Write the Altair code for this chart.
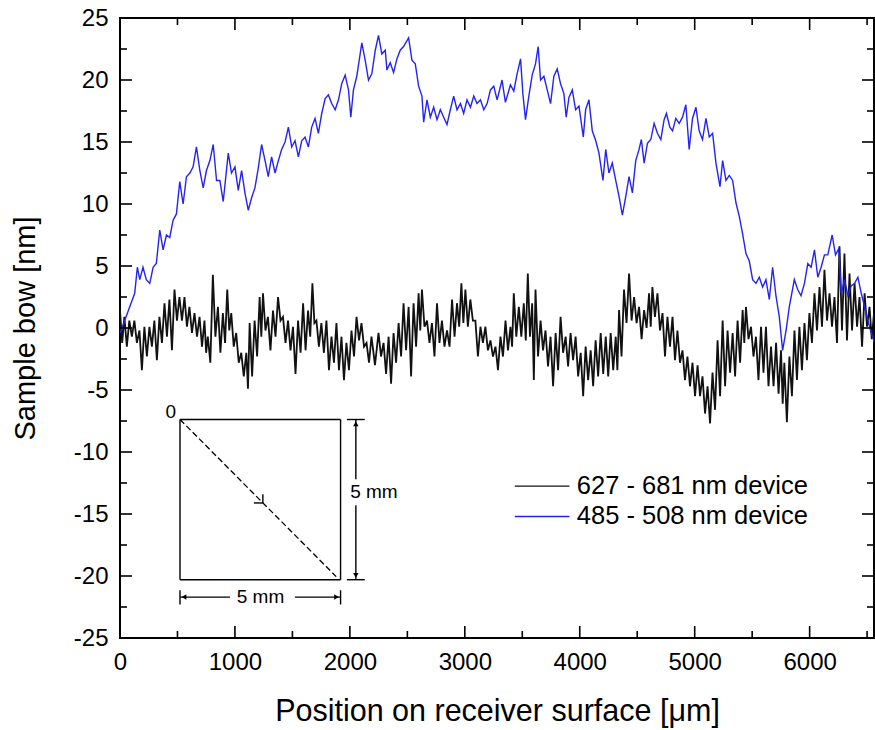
import altair as alt
import pandas as pd

# ---------------- data ----------------
x_major = [0, 1000, 2000, 3000, 4000, 5000, 6000]
x_minor = [500, 1500, 2500, 3500, 4500, 5500, 6500]
y_major = [-25, -20, -15, -10, -5, 0, 5, 10, 15, 20, 25]
y_minor = [-22.5, -17.5, -12.5, -7.5, -2.5, 2.5, 7.5, 12.5, 17.5, 22.5]

blue_x = [0, 41, 96, 128, 151, 172, 200, 229, 259, 288,
          316, 346, 375, 404, 433, 462, 491, 520, 549, 578,
          608, 636, 665, 695, 724, 752, 782, 811, 840, 869,
          898, 942, 970, 1000, 1029, 1058, 1087, 1116, 1145, 1174,
          1203, 1232, 1262, 1290, 1319, 1349, 1378, 1406, 1436, 1465,
          1494, 1523, 1552, 1581, 1610, 1639, 1668, 1697, 1726, 1755,
          1785, 1813, 1842, 1872, 1901, 1929, 1959, 1988, 2008, 2031,
          2060, 2104, 2133, 2162, 2191, 2221, 2249, 2278, 2308, 2322,
          2351, 2380, 2409, 2438, 2467, 2511, 2540, 2569, 2598, 2627,
          2642, 2671, 2700, 2729, 2758, 2787, 2816, 2845, 2874, 2903,
          2932, 2962, 2990, 3019, 3049, 3078, 3106, 3136, 3165, 3194,
          3223, 3252, 3281, 3324, 3353, 3397, 3426, 3455, 3485, 3505,
          3528, 3557, 3586, 3615, 3638, 3659, 3688, 3717, 3746, 3775,
          3804, 3833, 3862, 3882, 3906, 3935, 3964, 3993, 4031, 4051,
          4080, 4109, 4139, 4167, 4202, 4226, 4254, 4283, 4313, 4342,
          4371, 4400, 4429, 4458, 4487, 4516, 4536, 4560, 4589, 4618,
          4647, 4676, 4705, 4734, 4754, 4784, 4807, 4836, 4865, 4894,
          4923, 4952, 4981, 5011, 5039, 5068, 5098, 5127, 5156, 5185,
          5220, 5243, 5272, 5301, 5330, 5359, 5388, 5417, 5446, 5475,
          5504, 5533, 5562, 5591, 5620, 5649, 5678, 5707, 5736, 5765,
          5795, 5823, 5867, 5896, 5925, 5955, 5984, 6013, 6042, 6071,
          6100, 6129, 6158, 6196, 6225, 6254, 6275, 6304, 6333, 6362,
          6391, 6420, 6449, 6478, 6507, 6536, 6565]
blue_y = [-0.4, 0.6, 2.0, 2.8, 4.9, 3.9, 4.9, 3.9, 3.6, 4.9,
          5.2, 7.9, 6.3, 7.5, 7.3, 8.7, 9.2, 11.8, 10.0, 12.2,
          12.5, 13.0, 14.6, 12.7, 11.3, 12.7, 13.5, 14.8, 11.9, 11.9,
          10.2, 14.1, 12.5, 13.0, 11.1, 12.7, 10.9, 9.5, 10.5, 11.3,
          12.9, 14.8, 13.5, 12.2, 13.8, 12.5, 13.5, 14.4, 15.0, 16.2,
          14.6, 15.1, 13.8, 15.1, 15.4, 14.6, 16.2, 16.9, 15.7, 17.3,
          18.5, 18.8, 18.1, 17.6, 18.4, 19.7, 20.4, 19.2, 17.0, 19.2,
          20.3, 23.0, 21.6, 20.0, 20.5, 22.4, 23.6, 22.1, 22.4, 20.8,
          21.4, 20.6, 21.7, 22.4, 22.7, 23.4, 21.6, 21.3, 19.5, 18.7,
          16.6, 18.4, 17.0, 17.8, 16.8, 17.6, 17.0, 16.4, 17.6, 18.7,
          17.6, 18.1, 17.3, 18.4, 17.8, 18.7, 18.1, 18.4, 17.6, 18.1,
          19.2, 19.5, 18.4, 20.0, 18.2, 19.6, 19.1, 20.5, 21.7, 18.9,
          16.8, 18.7, 20.4, 21.3, 22.7, 20.0, 20.3, 19.2, 18.1, 20.3,
          20.9, 19.7, 18.9, 17.0, 18.6, 19.2, 17.6, 17.9, 15.4, 17.6,
          18.4, 15.9, 15.1, 14.1, 11.9, 14.4, 12.5, 13.3, 11.9, 10.6,
          9.1, 10.6, 12.2, 10.9, 13.5, 14.4, 15.2, 13.3, 14.9, 15.2,
          16.5, 15.7, 15.2, 16.8, 17.3, 16.2, 15.9, 16.9, 16.5, 17.0,
          18.0, 14.4, 16.9, 17.8, 15.9, 15.2, 16.9, 15.4, 15.7, 13.3,
          11.4, 13.5, 11.9, 12.3, 11.9, 10.1, 9.0, 7.6, 6.0, 5.4,
          3.9, 3.6, 4.1, 3.3, 3.9, 2.3, 4.9, 2.6, 0.9, -1.8,
          -0.2, 1.7, 3.9, 3.1, 2.6, 3.6, 5.2, 4.9, 6.3, 4.1,
          4.9, 5.9, 5.9, 7.5, 5.9, 6.4, 2.8, 3.9, 2.6, 3.4,
          3.6, 4.1, 2.8, 1.7, 0.6, -0.4, -1.2]

# black trace: sampled positions with the upper and lower excursion of the noisy band
black_x = [0, 38, 81, 125, 169, 212, 256, 299, 343, 387,
           430, 474, 517, 561, 604, 648, 692, 735, 764, 808,
           852, 895, 933, 968, 1011, 1055, 1099, 1128, 1171, 1215,
           1244, 1287, 1331, 1375, 1418, 1462, 1505, 1549, 1593, 1636,
           1674, 1709, 1752, 1796, 1840, 1883, 1927, 1970, 2014, 2058,
           2101, 2145, 2188, 2249, 2293, 2337, 2380, 2424, 2467, 2511,
           2554, 2598, 2627, 2671, 2714, 2758, 2801, 2845, 2889, 2932,
           2970, 3005, 3048, 3092, 3136, 3179, 3223, 3267, 3310, 3354,
           3397, 3426, 3470, 3513, 3548, 3586, 3615, 3659, 3702, 3746,
           3790, 3833, 3877, 3920, 3964, 4008, 4051, 4095, 4138, 4182,
           4226, 4269, 4313, 4342, 4385, 4429, 4473, 4516, 4560, 4603,
           4632, 4676, 4720, 4763, 4807, 4850, 4894, 4937, 4981, 5025,
           5068, 5112, 5155, 5199, 5243, 5286, 5330, 5373, 5417, 5446,
           5490, 5533, 5577, 5620, 5664, 5708, 5751, 5780, 5824, 5868,
           5911, 5955, 5998, 6042, 6086, 6129, 6173, 6216, 6260, 6303,
           6347, 6391, 6434, 6478, 6521, 6560]
black_hi = [1.4, 0.9, 0.6, 0.6, -0.2, 0.1, 0.1, 0.6, 0.9, 2.0,
            2.3, 3.1, 2.5, 2.5, 1.7, 1.2, 0.9, 0.6, -0.7, 4.3,
            1.7, 1.2, 3.1, 1.2, -0.4, -2.0, -2.0, 0.4, 0.6, 2.5,
            2.8, 0.9, 1.4, 2.5, 0.9, 0.6, 0.1, 0.6, 2.0, 1.4,
            3.6, 0.6, 0.4, 0.6, -0.7, 0.4, -0.7, -1.2, -0.2, 0.9,
            0.4, -1.2, -0.7, -0.4, -1.2, -0.7, -0.4, 0.4, 2.0, 1.7,
            2.0, 2.8, 3.1, 0.6, 0.4, 2.0, 0.6, -0.2, 2.3, 2.0,
            3.6, 3.1, 2.3, 0.6, 0.1, 0.1, -1.0, -1.5, -0.7, 0.6,
            0.1, 2.8, 1.7, 2.0, 4.4, 2.0, 3.1, 0.6, -0.2, -0.7,
            -0.4, 0.9, -0.7, -0.4, -0.7, -2.0, -1.5, -1.8, -1.0, -0.4,
            -0.7, -0.4, -0.7, 1.45, 3.1, 4.4, 2.5, 1.7, 1.45, 2.8,
            3.3, 2.8, 1.2, 0.9, 0.9, -0.2, -1.8, -2.3, -2.8, -3.0,
            -3.9, -4.7, -3.6, -1.0, 0.6, -0.2, -0.4, 0.6, 1.45, 1.7,
            0.1, -0.7, 0.1, 0.1, -1.5, -1.2, -1.8, -2.8, -2.3, -0.2,
            0.1, 0.4, 1.2, 2.8, 3.3, 4.7, 2.8, 2.5, 6.6, 6.0,
            4.4, 3.6, 2.5, 2.8, 1.7, 1.2]
black_lo = [-1.2, -1.5, -0.7, -1.2, -3.4, -2.3, -1.5, -2.6, -1.2, -0.7,
            -1.8, 0.6, 0.6, 0.1, -0.4, -0.7, -1.5, -2.0, -2.8, -0.7,
            -2.0, -1.2, -0.2, -1.5, -2.8, -3.9, -4.9, -3.9, -2.3, -0.7,
            -0.2, -1.8, -0.7, 0.6, -1.2, -1.8, -3.7, -2.0, -1.8, -0.7,
            0.4, -1.5, -2.0, -3.4, -2.8, -3.4, -4.2, -3.4, -2.3, -1.0,
            -1.5, -2.8, -3.0, -2.3, -3.7, -4.5, -2.8, -2.3, -1.8, -3.9,
            -1.5, -0.2, 0.1, -1.2, -2.3, -1.2, -1.5, -1.5, -0.7, 0.1,
            0.4, 0.1, 0.6, -2.3, -1.2, -1.8, -2.3, -3.4, -2.3, -1.8,
            -1.5, -0.7, -0.7, -1.0, -0.7, -4.2, -2.3, -1.8, -3.1, -4.7,
            -3.4, -2.0, -3.1, -2.6, -3.9, -5.5, -4.2, -4.7, -3.9, -3.7,
            -3.9, -3.4, -3.4, -2.3, 0.4, 0.6, 0.4, -0.9, 0.0, 0.1,
            0.9, -0.2, -2.3, -1.5, -2.6, -2.8, -4.2, -4.7, -5.5, -5.5,
            -6.9, -7.7, -6.6, -5.5, -4.7, -3.6, -3.9, -2.8, -1.2, -0.9,
            -2.3, -4.2, -3.6, -4.7, -4.7, -5.3, -6.1, -7.6, -5.5, -4.2,
            -3.4, -2.6, -1.2, -0.2, 0.1, 0.6, 0.1, -1.2, -0.2, -1.0,
            -0.2, 0.1, -1.5, 0.1, -0.9, -1.2]

series_names = ["627 - 681 nm device", "485 - 508 nm device"]
series_colors = ["#111111", "#2323f5"]

# inset sketch (data units: µm, nm)
box_x = [522, 1919]
box_y = [-7.38, -20.3]
diag_end = [1881, -20.05]
chevron_tip = [1243, -14.11]
chevron_left = [1165, -14.11]
chevron_up = [1243, -13.40]
vdim_x = 2052
vdim_gap = [-12.2, -14.3]
vdim_bar = [1974, 2130]
hdim_y = -21.7
hdim_gap = [957, 1522]
hdim_bar = [-21.15, -22.3]
dim_label = "5 mm"
vdim_label_pos = [2209, -13.2]
hdim_label_pos = [1222, -21.7]
origin_label_pos = [441, -6.8]

legend_line_x = [3435, 3910]
legend_y = [-12.75, -15.2]
legend_text_x = 3974

# ---------------- build tables ----------------
rows = []
n = len(black_x)
k = 0
for i in range(n):
    rows.append({"x": black_x[i], "y": black_hi[i], "i": k}); k += 1
    xm = (black_x[i] + black_x[i + 1]) / 2 if i < n - 1 else black_x[i]
    rows.append({"x": xm, "y": black_lo[i], "i": k}); k += 1
black_df = pd.DataFrame(rows)
blue_df = pd.DataFrame({"x": blue_x, "y": blue_y, "i": list(range(len(blue_x)))})

FONT = "Liberation Sans"
W, H = 754, 620
xs = alt.Scale(domain=[0, 6560], nice=False, zero=False)
ys = alt.Scale(domain=[-25, 25], nice=False, zero=False)

x_axis = alt.Axis(values=x_major, labelExpr="'' + datum.value", ticks=False, domain=False,
                  grid=False, labelFlush=False, labelFont=FONT, labelFontSize=24,
                  labelColor="black", labelPadding=12,
                  title="Position on receiver surface [\u03bcm]", titleFont=FONT,
                  titleFontSize=30.5, titleFontWeight="normal", titleColor="black",
                  titlePadding=22)
y_axis = alt.Axis(values=y_major, labelExpr="'' + datum.value", ticks=False, domain=False,
                  grid=False, labelFlush=False, labelFont=FONT, labelFontSize=24,
                  labelColor="black", labelPadding=12,
                  title="Sample bow [nm]", titleFont=FONT, titleFontSize=29,
                  titleFontWeight="normal", titleColor="black", titlePadding=33)


def X(f):
    return alt.X(f, scale=xs, axis=x_axis)


def Y(f):
    return alt.Y(f, scale=ys, axis=y_axis)


black_line = alt.Chart(black_df).mark_line(color=series_colors[0], strokeWidth=1.8, clip=True).encode(
    x=X("x:Q"), y=Y("y:Q"), order="i:Q")
blue_line = alt.Chart(blue_df).mark_line(color=series_colors[1], strokeWidth=1.4, clip=True).encode(
    x=X("x:Q"), y=Y("y:Q"), order="i:Q")

# inward ticks (drawn as rules; positions through the scales, lengths in pixels)
tick_style = dict(color="black", strokeWidth=1.6)


def xticks(vals, y0, y1):
    return alt.Chart(pd.DataFrame({"v": vals})).mark_rule(**tick_style).encode(
        x=X("v:Q"), y=alt.value(y0), y2=alt.value(y1))


def yticks(vals, x0, x1):
    return alt.Chart(pd.DataFrame({"v": vals})).mark_rule(**tick_style).encode(
        y=Y("v:Q"), x=alt.value(x0), x2=alt.value(x1))


tick_layers = [
    xticks(x_major, H, H - 12), xticks(x_minor, H, H - 7),
    xticks(x_major, 0, 12), xticks(x_minor, 0, 7),
    yticks(y_major, 0, 12), yticks(y_minor, 0, 7),
    yticks(y_major, W, W - 12), yticks(y_minor, W, W - 7),
]

# inset: box and dimension lines (solid segments)
seg = pd.DataFrame([
    {"x": box_x[0], "y": box_y[0], "x2": box_x[1], "y2": box_y[0]},
    {"x": box_x[0], "y": box_y[1], "x2": box_x[1], "y2": box_y[1]},
    {"x": box_x[0], "y": box_y[0], "x2": box_x[0], "y2": box_y[1]},
    {"x": box_x[1], "y": box_y[0], "x2": box_x[1], "y2": box_y[1]},
    {"x": vdim_x, "y": box_y[0], "x2": vdim_x, "y2": vdim_gap[0]},
    {"x": vdim_x, "y": vdim_gap[1], "x2": vdim_x, "y2": box_y[1]},
    {"x": vdim_bar[0], "y": box_y[0], "x2": vdim_bar[1], "y2": box_y[0]},
    {"x": vdim_bar[0], "y": box_y[1], "x2": vdim_bar[1], "y2": box_y[1]},
    {"x": box_x[0], "y": hdim_y, "x2": hdim_gap[0], "y2": hdim_y},
    {"x": hdim_gap[1], "y": hdim_y, "x2": box_x[1], "y2": hdim_y},
    {"x": box_x[0], "y": hdim_bar[0], "x2": box_x[0], "y2": hdim_bar[1]},
    {"x": box_x[1], "y": hdim_bar[0], "x2": box_x[1], "y2": hdim_bar[1]},
    {"x": chevron_tip[0], "y": chevron_tip[1], "x2": chevron_left[0], "y2": chevron_left[1]},
    {"x": chevron_tip[0], "y": chevron_tip[1], "x2": chevron_up[0], "y2": chevron_up[1]},
])
inset_lines = alt.Chart(seg).mark_rule(color="black", strokeWidth=1.4).encode(
    x=X("x:Q"), y=Y("y:Q"), x2="x2:Q", y2="y2:Q")

diag = pd.DataFrame([{"x": box_x[0], "y": box_y[0], "x2": diag_end[0], "y2": diag_end[1]}])
diag_line = alt.Chart(diag).mark_rule(color="black", strokeWidth=1.3, strokeDash=[6, 3]).encode(
    x=X("x:Q"), y=Y("y:Q"), x2="x2:Q", y2="y2:Q")

arrows = pd.DataFrame([
    {"x": vdim_x, "y": box_y[0] - 0.35, "s": "triangle-up"},
    {"x": vdim_x, "y": box_y[1] + 0.35, "s": "triangle-down"},
    {"x": box_x[0] + 35, "y": hdim_y, "s": "triangle-left"},
    {"x": box_x[1] - 35, "y": hdim_y, "s": "triangle-right"},
])
shape_names = ["triangle-up", "triangle-down", "triangle-left", "triangle-right"]
arrow_heads = alt.Chart(arrows).mark_point(filled=True, color="black", size=30, opacity=1).encode(
    x=X("x:Q"), y=Y("y:Q"),
    shape=alt.Shape("s:N", scale=alt.Scale(domain=shape_names, range=shape_names), legend=None))

labels = pd.DataFrame([
    {"x": vdim_label_pos[0], "y": vdim_label_pos[1], "t": dim_label},
    {"x": hdim_label_pos[0], "y": hdim_label_pos[1], "t": dim_label},
    {"x": origin_label_pos[0], "y": origin_label_pos[1], "t": "0"},
])
inset_text = alt.Chart(labels).mark_text(font=FONT, fontSize=19, color="black", align="center",
                                          baseline="middle").encode(
    x=X("x:Q"), y=Y("y:Q"), text="t:N")

# legend
leg = pd.DataFrame({"x": [legend_line_x[0]] * 2, "x2": [legend_line_x[1]] * 2, "y": legend_y,
                    "tx": [legend_text_x] * 2, "name": series_names, "c": series_colors})
leg_lines = alt.Chart(leg).mark_rule(strokeWidth=1.3).encode(
    x=X("x:Q"), x2="x2:Q", y=Y("y:Q"), color=alt.Color("c:N", scale=None, legend=None))
leg_text = alt.Chart(leg).mark_text(font=FONT, fontSize=25.5, color="black", align="left",
                                     baseline="middle").encode(
    x=X("tx:Q"), y=Y("y:Q"), text="name:N")

chart = alt.layer(
    black_line, blue_line, *tick_layers,
    inset_lines, diag_line, arrow_heads, inset_text,
    leg_lines, leg_text,
).properties(
    width=W, height=H,
    autosize=alt.AutoSizeParams(type="none"),
    padding={"left": 120, "top": 18, "right": 1, "bottom": 92},
    background="white",
).configure_view(
    stroke="black", strokeWidth=2,
).configure_axis(
    labelFont=FONT, titleFont=FONT,
)

chart.save("out.html", embed_options={"renderer": "svg", "actions": False})
